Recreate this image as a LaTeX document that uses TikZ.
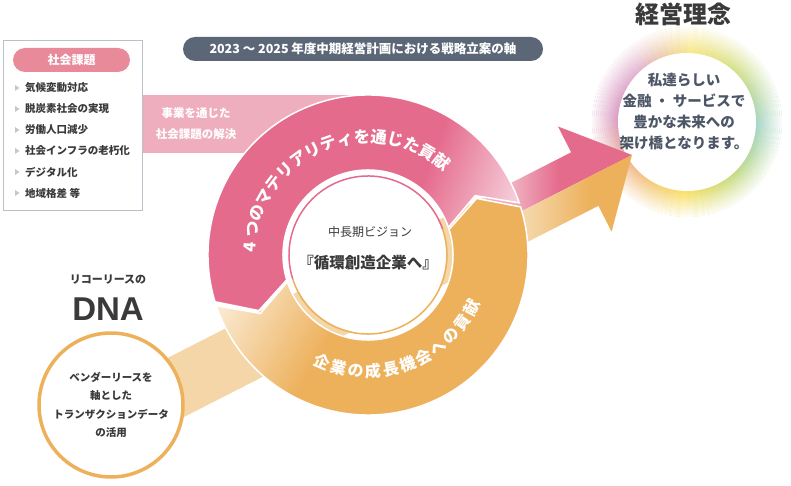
\documentclass[tikz,border=0pt]{standalone}
\usepackage{fontspec}
\usepackage{xcolor}
\usepackage{tikz}
\usetikzlibrary{positioning,decorations.text}

\newfontfamily\jp{Noto Sans CJK JP}
\newfontfamily\latinsans{Liberation Sans}
\newcommand\jfs[1]{\fontsize{#1}{#1}\selectfont}

\definecolor{ringpink}{HTML}{E56B8D}
\definecolor{ringpinklt}{HTML}{F6D3DE}
\definecolor{bandpink}{HTML}{EFAEBE}
\definecolor{pillpink}{HTML}{E98A9B}
\definecolor{ringorange}{HTML}{EDB15C}
\definecolor{ringorangelt}{HTML}{FAE8CE}
\definecolor{bandorange}{HTML}{F5D6A8}
\definecolor{slate}{HTML}{5B6777}
\definecolor{txtdark}{HTML}{3A3A3A}
\definecolor{txtslate}{HTML}{4C5666}
\definecolor{boxgray}{HTML}{B8C0C8}
% glow colours
\definecolor{gyellow}{HTML}{FAE88A}
\definecolor{glime}{HTML}{D0E08C}
\definecolor{gteal}{HTML}{A8D6C8}
\definecolor{ggreen}{HTML}{C4DC86}
\definecolor{gyellowb}{HTML}{F9E26A}
\definecolor{gorange}{HTML}{F3BE8E}
\definecolor{gpink}{HTML}{DCA0C4}
\definecolor{gmauve}{HTML}{E4B6D4}

\pgfdeclarehorizontalshading{ringpinkfade}{100bp}{color(0bp)=(ringpink); color(60bp)=(ringpink); color(76bp)=(ringpinklt); color(100bp)=(ringpinklt)}
\pgfdeclarehorizontalshading{ringorangefade}{100bp}{color(0bp)=(ringorangelt); color(26bp)=(ringorangelt); color(44bp)=(ringorange); color(100bp)=(ringorange)}
\pgfdeclarehorizontalshading{arrowpinkfade}{100bp}{color(0bp)=(bandpink); color(35bp)=(bandpink); color(50bp)=(ringpink); color(100bp)=(ringpink)}
\pgfdeclarehorizontalshading{arroworangefade}{100bp}{color(0bp)=(bandorange); color(36bp)=(bandorange); color(59bp)=(ringorange); color(100bp)=(ringorange)}

\begin{document}
\begin{tikzpicture}[x=1pt,y=1pt,
    pill/.style={rounded corners=12, minimum height=24, inner sep=0, text=white},
    item/.style={anchor=west, inner sep=0, font=\jp\bfseries\jfs{10.5}, text=txtdark},
    ringchar/.style={inner sep=0, text=white, font=\jp\bfseries\jfs{#1}, text height=.88*#1, text depth=.12*#1},
    ringtext/.style={decorate, decoration={text along path, text align=center, text color=white, text={#1}}}]
    \useasboundingbox (0,0) rectangle (791,485);
    \fill[white] (0,0) rectangle (791,485);

    % Glow round the philosophy circle
    \coordinate (glow) at (687,363);
    \foreach \a/\b/\ca/\cb in {90/45/gyellow/glime, 45/0/glime/gteal, 0/-45/gteal/ggreen, -45/-90/ggreen/gyellowb,
        -90/-135/gyellowb/gorange, -135/-180/gorange/gpink, 180/135/gpink/gmauve, 135/90/gmauve/gyellow}{
        \foreach \k in {0,...,8}{
            \pgfmathsetmacro\s{\a+((\b)-(\a))*\k/9}
            \pgfmathsetmacro\e{\a+((\b)-(\a))*(\k+1)/9}
            \pgfmathtruncatemacro\p{100*\k/9}
            \filldraw[fill={\cb!\p!\ca}, draw={\cb!\p!\ca}, line width=.4] (glow) -- ++(\s:96) arc[start angle=\s, end angle=\e, radius=96] -- cycle;
        }
    }
    \foreach \i in {0,...,13}{
        \pgfmathsetmacro\op{\i/13}
        \draw[white, opacity=\op, line width=2] (glow) circle[radius=70+2*\i];
    }
    \node[circle, fill=white, minimum size=138, inner sep=0] (philodisc) at (glow) {};
    \node[font=\jp\bfseries\fontsize{14.5}{21}\selectfont, text=txtslate, align=center] (philotext) at (684,373) {私達らしい\\金融 ・ サービスで\\豊かな未来への\\架け橋となります。};
    \node[font=\jp\bfseries\jfs{24}, text=txtdark] (philotitle) at (683,471) {経営理念};

    % DNA band and arrow
    \begin{scope}[shift={(632,330)}, rotate=27]
        \fill[bandorange] (-540,-30) -- (-150,-30) -- (-150,30) -- (-540,30) -- cycle;
        \shade[shading=arrowpinkfade] (0,0) -- (-53,59) -- (-53,30) -- (-150,30) -- (-150,0) -- cycle;
        \shade[shading=arroworangefade] (0,0) -- (-53,-59) -- (-53,-30) -- (-150,-30) -- (-150,0) -- cycle;
    \end{scope}

    % Band from the social issues
    \fill[bandpink] (142,332) rectangle (368,390);
    \node[font=\jp\bfseries\fontsize{11.5}{21}\selectfont, text=white, align=center] (bandtext) at (196,361.5) {事業を通じた\\社会課題の解決};

    % Ring
    \begin{scope}[shift={(368,230)}]
        \shadedraw[shading=ringpinkfade, shading angle=-20, draw=white, line width=1.5]
            (19:160) arc[start angle=19, end angle=197, radius=160] -- (207:122.5)
            -- (197:85) arc[start angle=197, end angle=19, radius=85] -- (29:122.5) -- cycle;
        \shadedraw[shading=ringorangefade, shading angle=-30, draw=white, line width=1.5]
            (198.5:160) arc[start angle=198.5, end angle=377.5, radius=160] -- (387.5:122.5)
            -- (377.5:85) arc[start angle=377.5, end angle=198.5, radius=85] -- (208.5:122.5) -- cycle;
        \fill[white] (0,0) circle[radius=78];
        \draw[ringpink, line width=1.5] (19:79) arc[start angle=19, end angle=198, radius=79];
        \draw[ringorange, line width=1.5] (198:79) arc[start angle=198, end angle=379, radius=79];
        % texts round the ring
        \path[ringtext={|\jp\bfseries\jfs{16.3}|4 つのマテリアリティを通じた貢献}] (188:112.5) arc[start angle=188, end angle=38, radius=112.5];
        \foreach \ch [count=\i] in {企,業,の,成,長,機,会,へ,の,貢,献}{
            \pgfmathsetmacro\ang{247+8.6*(\i-1)}
            \node[ringchar=16, rotate=\ang+90] (growth\i) at (\ang:116) {\ch};
        }
    \end{scope}
    \node[font=\jp\jfs{12}, text=txtdark] (visionlabel) at (370,253) {中長期ビジョン};
    \node[font=\jp\bfseries\jfs{15.5}, text=txtdark] (visionname) at (368,222) {『循環創造企業へ』};

    % Banner
    \node[pill, fill=slate, minimum width=360, font=\jp\bfseries\jfs{12.5}] (strategy) at (363,436) {2023 ～ 2025 年度中期経営計画における戦略立案の軸};

    % Social issues box
    \node[draw=boxgray, line width=.8, minimum width=139, minimum height=170, inner sep=0] (issuebox) at (72.5,360) {};
    \node[pill, fill=pillpink, minimum width=117, font=\jp\bfseries\jfs{12}] (issuehead) at (71.5,425) {社会課題};
    \foreach \t [count=\i] in {気候変動対応, 脱炭素社会の実現, 労働人口減少, 社会インフラの老朽化, デジタル化, 地域格差 等}{
        \node[item] (issue\i) at (25,418-21*\i) {\t};
        \fill[black!22] (15,421-21*\i) -- ++(0,-6) -- ++(4.5,3) -- cycle;
    }

    % DNA
    \node[circle, draw=ringorange, line width=3.5, fill=white, minimum size=144, inner sep=0] (dnacircle) at (111,80) {};
    \node[font=\jp\bfseries\fontsize{10.5}{18.5}\selectfont, text=txtdark, align=center] (dnatext) at (111,80) {ベンダーリースを\\軸とした\\トランザクションデータ\\の活用};
    \node[font=\latinsans\bfseries\jfs{33}, text=txtdark] (dnatitle) at (108,175.5) {DNA};
    \node[font=\jp\bfseries\jfs{11}, text=txtdark, above=7pt of dnatitle] (dnalead) {リコーリースの};
\end{tikzpicture}
\end{document}
